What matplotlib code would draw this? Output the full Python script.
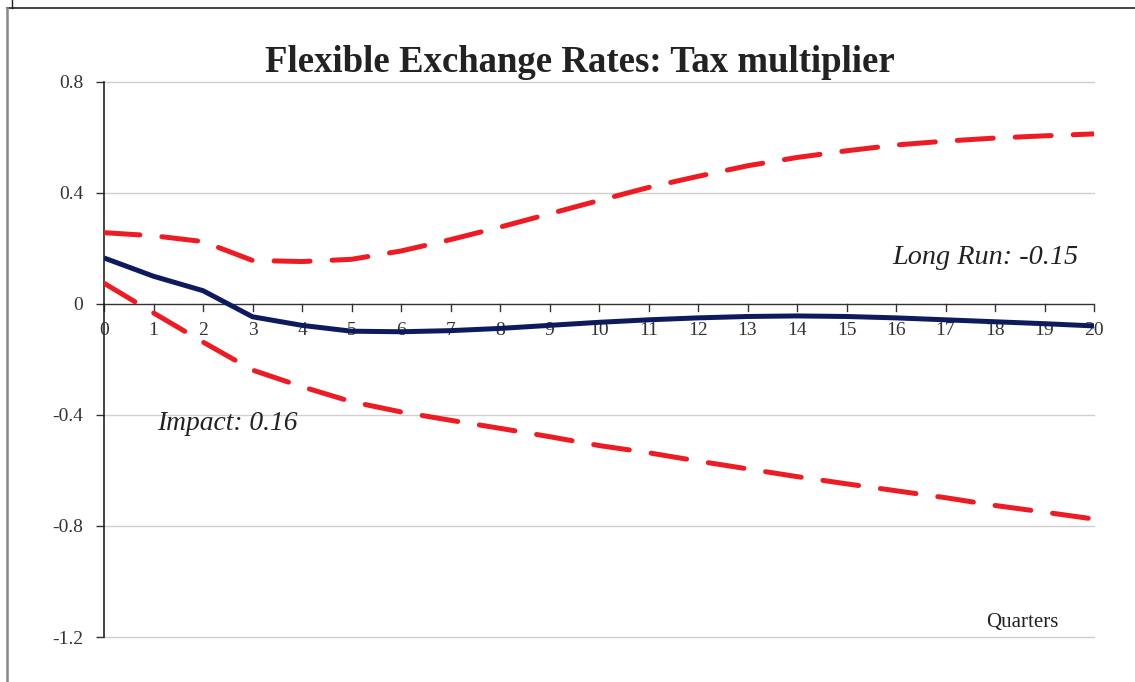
import matplotlib
matplotlib.use("Agg")
import matplotlib.pyplot as plt
from matplotlib.lines import Line2D

quarters = list(range(21))
central = [0.166, 0.10, 0.048, -0.046, -0.077, -0.098, -0.100, -0.096, -0.088, -0.077,
           -0.066, -0.057, -0.050, -0.045, -0.043, -0.045, -0.050, -0.057, -0.064, -0.071, -0.079]
upper = [0.257, 0.246, 0.225, 0.157, 0.153, 0.161, 0.191, 0.232, 0.277, 0.325,
         0.373, 0.420, 0.460, 0.498, 0.528, 0.552, 0.573, 0.587, 0.598, 0.606, 0.613]
lower = [0.075, -0.032, -0.137, -0.238, -0.298, -0.352, -0.389, -0.419, -0.448, -0.478,
         -0.510, -0.536, -0.566, -0.594, -0.622, -0.648, -0.673, -0.698, -0.726, -0.750, -0.775]
yticks = [-1.2, -0.8, -0.4, 0, 0.4, 0.8]
ytick_labels = ["-1.2", "-0.8", "-0.4", "0", "0.4", "0.8"]
title = "Flexible Exchange Rates: Tax multiplier"

serif = ["Liberation Serif", "DejaVu Serif"]
plt.rcParams["font.family"] = serif

fig = plt.figure(figsize=(11.35, 6.82), dpi=100)
ax = fig.add_axes([104/1135, 1-637/682, (1094-104)/1135, (637-82)/682])

ax.set_xlim(0, 20)
ax.set_ylim(-1.2, 0.8)

for y in yticks:
    if y != 0:
        ax.axhline(y, color="#d0d0d0", lw=1.0, zorder=1, clip_on=False)

ax.axhline(0, color="#333333", lw=1.0, zorder=2)
# x ticks at y=0
for q in quarters:
    ax.plot([q, q], [0, -0.025], color="#333333", lw=1.0, clip_on=False, zorder=2)
    ax.text(q, -0.095, str(q), ha="center", va="center", fontsize=14, color="#333333", zorder=1)

ax.set_xticks([])
ax.set_yticks(yticks)
ax.set_yticklabels(ytick_labels, fontsize=14, color="#333333")
ax.tick_params(axis="y", direction="out", length=6, width=1, color="#333333", pad=9)

for s in ["top", "right", "bottom"]:
    ax.spines[s].set_visible(False)
ax.spines["left"].set_color("#222222")
ax.spines["left"].set_linewidth(1.2)

red = "#ed1c24"
navy = "#0d1b5e"
ax.plot(quarters, upper, color=red, lw=3.6, dashes=(7.2, 4.4), dash_capstyle="round", zorder=3)
ax.plot(quarters, lower, color=red, lw=3.6, dashes=(7.2, 4.4), dash_capstyle="round", zorder=3)
ax.plot(quarters, central, color=navy, lw=3.6, solid_capstyle="butt", zorder=4)

ax.text(15.92, 0.169, "Long Run: -0.15", style="italic", fontsize=20.3, ha="left", va="center", color="#222222")
ax.text(1.07, -0.429, "Impact: 0.16", style="italic", fontsize=19.8, ha="left", va="center", color="#222222")
ax.text(18.55, -1.146, "Quarters", fontsize=15, ha="center", va="center", color="#222222")

fig.text(580/1135, 1-63/682, title, fontsize=26.5, fontweight="bold", ha="center", va="center", color="#222222")

# outer frame
fig.add_artist(Line2D([7/1135, 1], [1-8/682, 1-8/682], color="#222222", lw=1.2, transform=fig.transFigure))
fig.add_artist(Line2D([7/1135, 7/1135], [0, 1-8/682], color="#888888", lw=1.8, transform=fig.transFigure))
fig.add_artist(Line2D([12/1135, 12/1135], [1-8/682, 1], color="#222222", lw=1.0, transform=fig.transFigure))

fig.savefig("out.png", dpi=100)
